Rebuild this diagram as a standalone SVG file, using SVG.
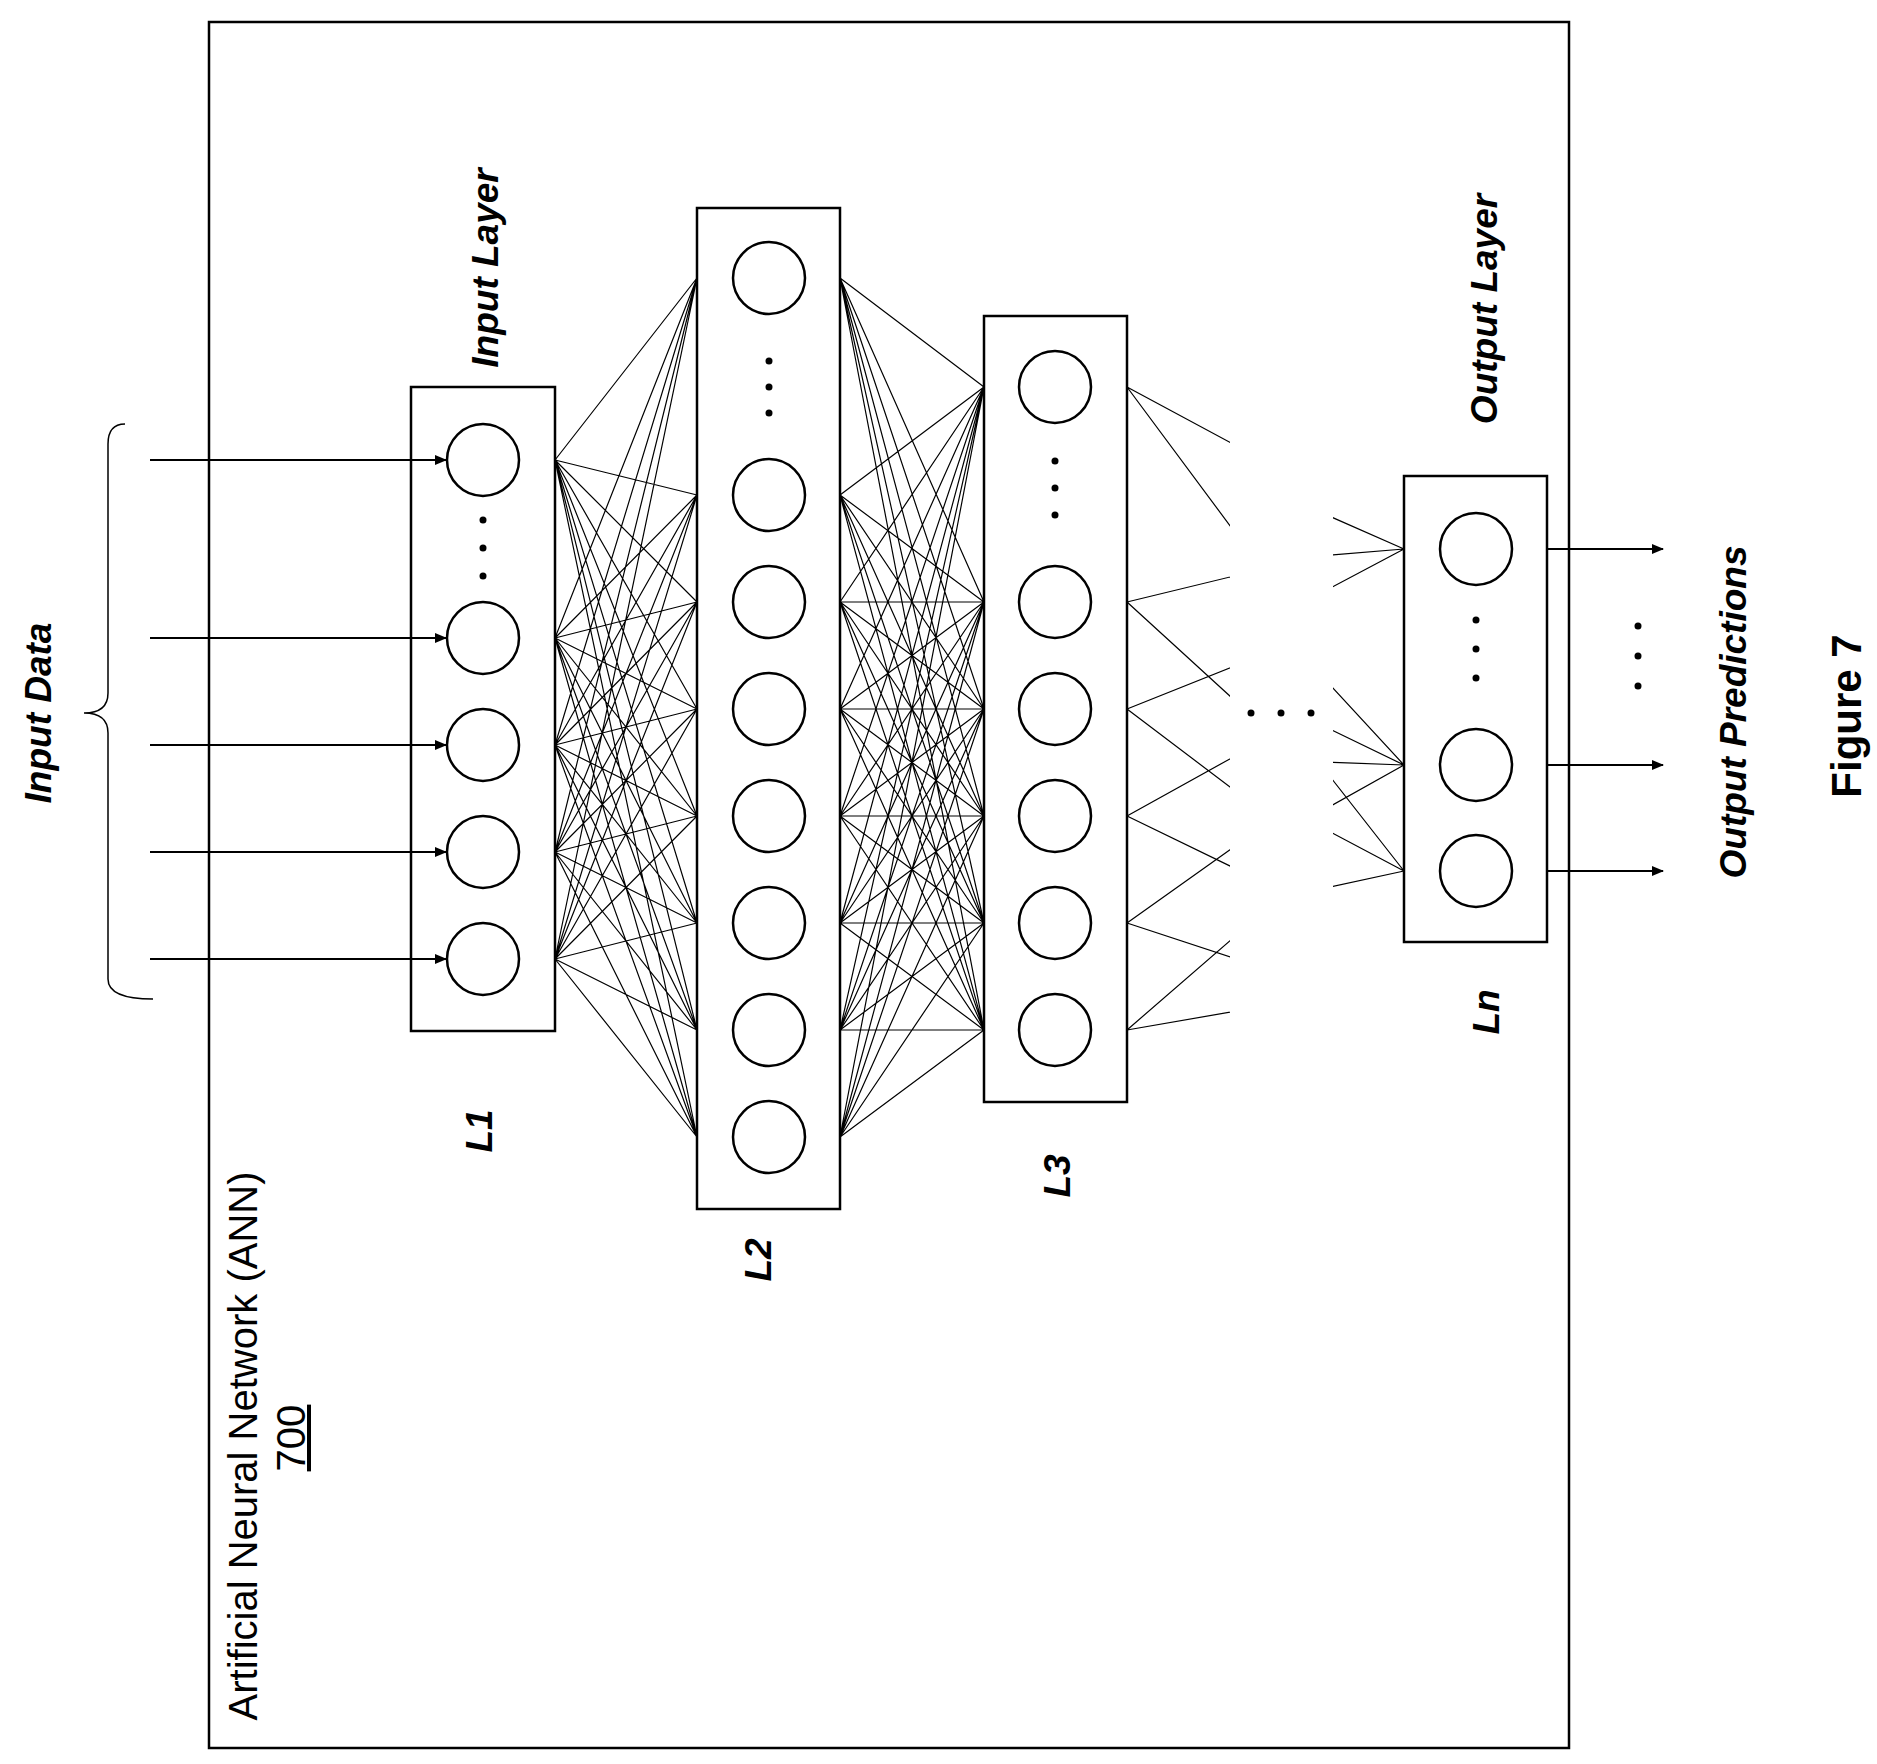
<svg xmlns="http://www.w3.org/2000/svg" width="1877" height="1764" viewBox="0 0 1877 1764">
<style>
.box{fill:none;stroke:#000;stroke-width:2.5}
.n{fill:#fff;stroke:#000;stroke-width:2.5}
.c{fill:none;stroke:#000;stroke-width:1.2}
.a{stroke:#000;stroke-width:2;marker-end:url(#ah)}
.t{font-family:"Liberation Sans",Arial,sans-serif;font-weight:bold;font-style:italic;font-size:37px}
.d{fill:#000}
</style>
<defs>
<marker id="ah" markerWidth="12" markerHeight="10" refX="11" refY="5" orient="auto" markerUnits="userSpaceOnUse"><path d="M0,0 L12,5 L0,10 z"/></marker>
<clipPath id="cl"><rect x="0" y="0" width="1230" height="1764"/></clipPath>
<clipPath id="cr"><rect x="1333" y="0" width="600" height="1764"/></clipPath>
</defs>
<rect x="0" y="0" width="1877" height="1764" fill="#fff"/>
<rect x="209" y="22" width="1360" height="1726" fill="none" stroke="#000" stroke-width="2.5"/>
<g id="connectors">
<path class="c" d="M555,460L697,278M555,460L697,495M555,460L697,602M555,460L697,709M555,460L697,816M555,460L697,923M555,460L697,1030M555,460L697,1137
M555,638L697,278M555,638L697,495M555,638L697,602M555,638L697,709M555,638L697,816M555,638L697,923M555,638L697,1030M555,638L697,1137
M555,745L697,278M555,745L697,495M555,745L697,602M555,745L697,709M555,745L697,816M555,745L697,923M555,745L697,1030M555,745L697,1137
M555,852L697,278M555,852L697,495M555,852L697,602M555,852L697,709M555,852L697,816M555,852L697,923M555,852L697,1030M555,852L697,1137
M555,959L697,278M555,959L697,495M555,959L697,602M555,959L697,709M555,959L697,816M555,959L697,923M555,959L697,1030M555,959L697,1137"/>
<path class="c" d="M840,278L984,387M840,278L984,602M840,278L984,709M840,278L984,816M840,278L984,923M840,278L984,1030
M840,495L984,387M840,495L984,602M840,495L984,709M840,495L984,816M840,495L984,923M840,495L984,1030
M840,602L984,387M840,602L984,602M840,602L984,709M840,602L984,816M840,602L984,923M840,602L984,1030
M840,709L984,387M840,709L984,602M840,709L984,709M840,709L984,816M840,709L984,923M840,709L984,1030
M840,816L984,387M840,816L984,602M840,816L984,709M840,816L984,816M840,816L984,923M840,816L984,1030
M840,923L984,387M840,923L984,602M840,923L984,709M840,923L984,816M840,923L984,923M840,923L984,1030
M840,1030L984,387M840,1030L984,602M840,1030L984,709M840,1030L984,816M840,1030L984,923M840,1030L984,1030
M840,1137L984,387M840,1137L984,602M840,1137L984,709M840,1137L984,816M840,1137L984,923M840,1137L984,1030"/>
<path class="c" clip-path="url(#cl)" d="M1127,387L1300,480M1127,387L1300,620M1127,602L1300,560M1127,602L1300,760M1127,709L1300,640M1127,709L1300,840M1127,816L1300,720M1127,816L1300,900M1127,923L1300,800M1127,923L1300,980M1127,1030L1300,880M1127,1030L1300,1000"/>
<path class="c" clip-path="url(#cr)" d="M1270,490L1404,549M1270,560L1404,549M1270,620L1404,549M1270,700L1404,765M1270,760L1404,765M1270,840L1404,765M1270,700L1404,871M1270,800L1404,871M1270,900L1404,871M1270,620L1404,765"/>
<line class="a" x1="150" y1="460" x2="446" y2="460"/>
<line class="a" x1="150" y1="638" x2="446" y2="638"/>
<line class="a" x1="150" y1="745" x2="446" y2="745"/>
<line class="a" x1="150" y1="852" x2="446" y2="852"/>
<line class="a" x1="150" y1="959" x2="446" y2="959"/>
<line class="a" x1="1547" y1="549" x2="1663" y2="549"/>
<line class="a" x1="1547" y1="765" x2="1663" y2="765"/>
<line class="a" x1="1547" y1="871" x2="1663" y2="871"/>
</g>
<path d="M125,424 Q108,424 108,444 L108,693 Q108,713 84,713 Q108,713 108,733 L108,979 Q108,999 153,999" fill="none" stroke="#000" stroke-width="1.5"/>
<g id="L1"><rect class="box" x="411" y="387" width="144" height="644"/>
<circle class="n" cx="483" cy="460" r="36"/><circle class="n" cx="483" cy="638" r="36"/><circle class="n" cx="483" cy="745" r="36"/><circle class="n" cx="483" cy="852" r="36"/><circle class="n" cx="483" cy="959" r="36"/>
<circle class="d" cx="483" cy="520" r="3.5"/><circle class="d" cx="483" cy="548" r="3.5"/><circle class="d" cx="483" cy="576" r="3.5"/></g>
<g id="L2"><rect class="box" x="697" y="208" width="143" height="1001"/>
<circle class="n" cx="769" cy="278" r="36"/><circle class="n" cx="769" cy="495" r="36"/><circle class="n" cx="769" cy="602" r="36"/><circle class="n" cx="769" cy="709" r="36"/><circle class="n" cx="769" cy="816" r="36"/><circle class="n" cx="769" cy="923" r="36"/><circle class="n" cx="769" cy="1030" r="36"/><circle class="n" cx="769" cy="1137" r="36"/>
<circle class="d" cx="769" cy="361" r="3.5"/><circle class="d" cx="769" cy="387" r="3.5"/><circle class="d" cx="769" cy="413" r="3.5"/></g>
<g id="L3"><rect class="box" x="984" y="316" width="143" height="786"/>
<circle class="n" cx="1055" cy="387" r="36"/><circle class="n" cx="1055" cy="602" r="36"/><circle class="n" cx="1055" cy="709" r="36"/><circle class="n" cx="1055" cy="816" r="36"/><circle class="n" cx="1055" cy="923" r="36"/><circle class="n" cx="1055" cy="1030" r="36"/>
<circle class="d" cx="1055" cy="461" r="3.5"/><circle class="d" cx="1055" cy="488" r="3.5"/><circle class="d" cx="1055" cy="515" r="3.5"/></g>
<g id="mid"><circle class="d" cx="1251" cy="713" r="3.5"/><circle class="d" cx="1281" cy="713" r="3.5"/><circle class="d" cx="1311" cy="713" r="3.5"/></g>
<g id="Ln"><rect class="box" x="1404" y="476" width="143" height="466"/>
<circle class="n" cx="1476" cy="549" r="36"/><circle class="n" cx="1476" cy="765" r="36"/><circle class="n" cx="1476" cy="871" r="36"/>
<circle class="d" cx="1476" cy="620" r="3.5"/><circle class="d" cx="1476" cy="649" r="3.5"/><circle class="d" cx="1476" cy="678" r="3.5"/></g>
<g id="outdots"><circle class="d" cx="1638" cy="626" r="3.5"/><circle class="d" cx="1638" cy="656" r="3.5"/><circle class="d" cx="1638" cy="686" r="3.5"/></g>
<g id="labels" text-anchor="middle">
<text class="t" transform="translate(51,713) rotate(-90)">Input Data</text>
<text class="t" transform="translate(498,268) rotate(-90)">Input Layer</text>
<text class="t" transform="translate(1497,309) rotate(-90)">Output Layer</text>
<text class="t" transform="translate(1746,712) rotate(-90)">Output Predictions</text>
<text class="t" transform="translate(492,1131) rotate(-90)">L1</text>
<text class="t" transform="translate(771,1260) rotate(-90)">L2</text>
<text class="t" transform="translate(1070,1176) rotate(-90)">L3</text>
<text class="t" transform="translate(1499,1012) rotate(-90)">Ln</text>
<text transform="translate(1861,716) rotate(-90)" font-family="Liberation Sans,Arial,sans-serif" font-weight="bold" font-size="42">Figure 7</text>
<text transform="translate(257,1446) rotate(-90)" font-family="Liberation Sans,Arial,sans-serif" font-size="40">Artificial Neural Network (ANN)</text>
<text transform="translate(305,1438) rotate(-90)" font-family="Liberation Sans,Arial,sans-serif" font-size="40" text-decoration="underline">700</text>
</g>
</svg>
